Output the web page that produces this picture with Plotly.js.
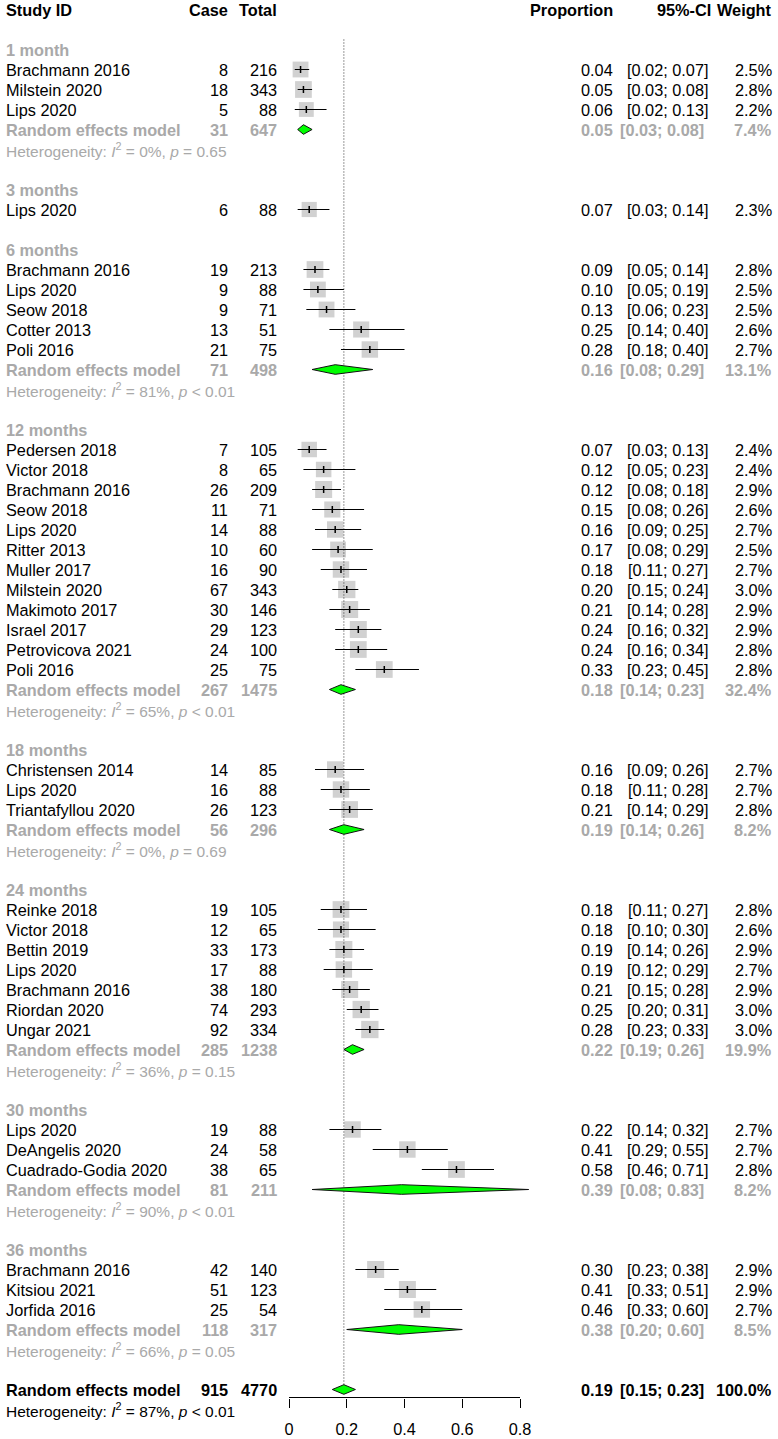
<!DOCTYPE html>
<html>
<head>
<meta charset="utf-8">
<script src="https://cdn.plot.ly/plotly-3.0.1.min.js"></script>
<style>
  body { margin: 0; background: #fff; }
  #plot { width: 778px; height: 1439px; }
</style>
</head>
<body>
<div id="plot"></div>
<script>
// Subgroups (follow-up time)
let groups = ["1 month", "3 months", "6 months", "12 months", "18 months", "24 months", "30 months", "36 months"];

// Study level data (index into groups)
let studyGroup = [0, 0, 0,
  1,
  2, 2, 2, 2, 2,
  3, 3, 3, 3, 3, 3, 3, 3, 3, 3, 3, 3,
  4, 4, 4,
  5, 5, 5, 5, 5, 5, 5,
  6, 6, 6,
  7, 7, 7];
let studyName = ["Brachmann 2016", "Milstein 2020", "Lips 2020",
  "Lips 2020",
  "Brachmann 2016", "Lips 2020", "Seow 2018", "Cotter 2013", "Poli 2016",
  "Pedersen 2018", "Victor 2018", "Brachmann 2016", "Seow 2018", "Lips 2020", "Ritter 2013",
  "Muller 2017", "Milstein 2020", "Makimoto 2017", "Israel 2017", "Petrovicova 2021", "Poli 2016",
  "Christensen 2014", "Lips 2020", "Triantafyllou 2020",
  "Reinke 2018", "Victor 2018", "Bettin 2019", "Lips 2020", "Brachmann 2016", "Riordan 2020", "Ungar 2021",
  "Lips 2020", "DeAngelis 2020", "Cuadrado-Godia 2020",
  "Brachmann 2016", "Kitsiou 2021", "Jorfida 2016"];
let studyCase = [8, 18, 5,
  6,
  19, 9, 9, 13, 21,
  7, 8, 26, 11, 14, 10, 16, 67, 30, 29, 24, 25,
  14, 16, 26,
  19, 12, 33, 17, 38, 74, 92,
  19, 24, 38,
  42, 51, 25];
let studyTotal = [216, 343, 88,
  88,
  213, 88, 71, 51, 75,
  105, 65, 209, 71, 88, 60, 90, 343, 146, 123, 100, 75,
  85, 88, 123,
  105, 65, 173, 88, 180, 293, 334,
  88, 58, 65,
  140, 123, 54];
let studyProp = [0.04, 0.05, 0.06,
  0.07,
  0.09, 0.10, 0.13, 0.25, 0.28,
  0.07, 0.12, 0.12, 0.15, 0.16, 0.17, 0.18, 0.20, 0.21, 0.24, 0.24, 0.33,
  0.16, 0.18, 0.21,
  0.18, 0.18, 0.19, 0.19, 0.21, 0.25, 0.28,
  0.22, 0.41, 0.58,
  0.30, 0.41, 0.46];
let studyLower = [0.02, 0.03, 0.02,
  0.03,
  0.05, 0.05, 0.06, 0.14, 0.18,
  0.03, 0.05, 0.08, 0.08, 0.09, 0.08, 0.11, 0.15, 0.14, 0.16, 0.16, 0.23,
  0.09, 0.11, 0.14,
  0.11, 0.10, 0.14, 0.12, 0.15, 0.20, 0.23,
  0.14, 0.29, 0.46,
  0.23, 0.33, 0.33];
let studyUpper = [0.07, 0.08, 0.13,
  0.14,
  0.14, 0.19, 0.23, 0.40, 0.40,
  0.13, 0.23, 0.18, 0.26, 0.25, 0.29, 0.27, 0.24, 0.28, 0.32, 0.34, 0.45,
  0.26, 0.28, 0.29,
  0.27, 0.30, 0.26, 0.29, 0.28, 0.31, 0.33,
  0.32, 0.55, 0.71,
  0.38, 0.51, 0.60];
let studyWeight = [2.5, 2.8, 2.2,
  2.3,
  2.8, 2.5, 2.5, 2.6, 2.7,
  2.4, 2.4, 2.9, 2.6, 2.7, 2.5, 2.7, 3.0, 2.9, 2.9, 2.8, 2.8,
  2.7, 2.7, 2.8,
  2.8, 2.6, 2.9, 2.7, 2.9, 3.0, 3.0,
  2.7, 2.7, 2.8,
  2.9, 2.9, 2.7];

// Random effects model per subgroup (null = single study, no pooling)
let reCase = [31, null, 71, 267, 56, 285, 81, 118];
let reTotal = [647, null, 498, 1475, 296, 1238, 211, 317];
let reProp = [0.05, null, 0.16, 0.18, 0.19, 0.22, 0.39, 0.38];
let reLower = [0.03, null, 0.08, 0.14, 0.14, 0.19, 0.08, 0.20];
let reUpper = [0.08, null, 0.29, 0.23, 0.26, 0.26, 0.83, 0.60];
let reWeight = [7.4, null, 13.1, 32.4, 8.2, 19.9, 8.2, 8.5];
let hetI2 = [0, null, 81, 65, 0, 36, 90, 66];
let hetP = ["= 0.65", null, "< 0.01", "< 0.01", "= 0.69", "= 0.15", "< 0.01", "= 0.05"];

// Overall random effects model
let overallCase = 915;
let overallTotal = 4770;
let overallProp = 0.19;
let overallLower = 0.15;
let overallUpper = 0.23;
let overallWeight = 100.0;
let overallI2 = 87;
let overallP = "< 0.01";

// x axis ticks
let tickVals = [0, 0.2, 0.4, 0.6, 0.8];

// Page geometry (pixels)
let W = 778, H = 1439;
let x0px = 289, pxPerUnit = 288.75;   // where 0 sits and how wide one unit is
let rowTop = 9.5, rowH = 20;          // centre of row 0 and row spacing
let axisPx = 1397.5;

let gray = "#A9A9A9";
let font = "Liberation Sans, Arial, sans-serif";
let fs = 16.3;      // main text size
let fsHet = 15.5;   // heterogeneity line

// Text columns (right edges unless noted)
let colName = 4, colCase = 230, colTotal = 279, colProp = 615, colCI = 710, colCIBold = 706, colWeight = 774;

let annotations = [];

function addText(text, px, row, anchor, opts) {
  opts = opts || {};
  annotations.push({
    text: text,
    x: px / W,
    xref: "paper",
    y: row,
    yref: "y",
    xanchor: anchor,
    yanchor: "middle",
    showarrow: false,
    font: {family: font, size: opts.size || fs, color: opts.color || "#000", weight: opts.bold ? "bold" : "normal"}
  });
}

function ciText(lo, hi) {
  return "[" + lo.toFixed(2) + "; " + hi.toFixed(2) + "]";
}

function hetText(i2, p) {
  return "Heterogeneity: <i>I</i><sup>2</sup> = " + i2 + "%, <i>p</i> " + p;
}

// Header
addText("Study ID", colName, 0, "left", {bold: true});
addText("Case", colCase, 0, "right", {bold: true});
addText("Total", colTotal, 0, "right", {bold: true});
addText("Proportion", colProp, 0, "right", {bold: true});
addText("95%-CI", 713, 0, "right", {bold: true});
addText("Weight", colWeight, 0, "right", {bold: true});

// Work out which row each study / pooled estimate goes on
let studyRow = [];
let reRow = [];
let row = 2;
for (let g = 0; g < groups.length; g++) {
  addText(groups[g], colName, row, "left", {bold: true, color: gray});
  row++;
  for (let i = 0; i < studyName.length; i++) {
    if (studyGroup[i] === g) {
      studyRow[i] = row;
      addText(studyName[i], colName, row, "left");
      addText(String(studyCase[i]), colCase, row, "right");
      addText(String(studyTotal[i]), colTotal, row, "right");
      addText(studyProp[i].toFixed(2), colProp, row, "right");
      addText(ciText(studyLower[i], studyUpper[i]), colCI, row, "right");
      addText(studyWeight[i].toFixed(1) + "%", colWeight, row, "right");
      row++;
    }
  }
  if (reProp[g] !== null) {
    reRow[g] = row;
    let st = {bold: true, color: gray};
    addText("Random effects model", colName, row, "left", st);
    addText(String(reCase[g]), colCase, row, "right", st);
    addText(String(reTotal[g]), colTotal, row, "right", st);
    addText(reProp[g].toFixed(2), colProp, row, "right", st);
    addText(ciText(reLower[g], reUpper[g]), colCIBold, row, "right", st);
    addText(reWeight[g].toFixed(1) + "%", colWeight, row, "right", st);
    row++;
    addText(hetText(hetI2[g], hetP[g]), colName, row, "left", {color: gray, size: fsHet});
    row++;
  } else {
    reRow[g] = null;
  }
  row++;
}

let overallRow = row;
addText("Random effects model", colName, overallRow, "left", {bold: true});
addText(String(overallCase), colCase, overallRow, "right", {bold: true});
addText(String(overallTotal), colTotal, overallRow, "right", {bold: true});
addText(overallProp.toFixed(2), colProp, overallRow, "right", {bold: true});
addText(ciText(overallLower, overallUpper), colCIBold, overallRow, "right", {bold: true});
addText(overallWeight.toFixed(1) + "%", colWeight, overallRow, "right", {bold: true});
addText(hetText(overallI2, overallP), colName, overallRow + 1, "left", {size: fsHet});

// CI lines and square sizes
let ciX = [], ciY = [];
let sqSize = [];
for (let i = 0; i < studyName.length; i++) {
  ciX.push(studyLower[i], studyUpper[i], null);
  ciY.push(studyRow[i], studyRow[i], null);
  sqSize.push(10 * Math.sqrt(studyWeight[i]));
}

// Diamonds for pooled estimates
let dh = 0.24;
let dX = [], dY = [];
for (let g = 0; g < groups.length; g++) {
  if (reRow[g] === null) continue;
  let r = reRow[g];
  dX.push(reLower[g], reProp[g], reUpper[g], reProp[g], reLower[g], null);
  dY.push(r, r - dh, r, r + dh, r, null);
}
dX.push(overallLower, overallProp, overallUpper, overallProp, overallLower, null);
dY.push(overallRow, overallRow - dh, overallRow, overallRow + dh, overallRow, null);

let squares = {
  x: studyProp,
  y: studyRow,
  mode: "markers",
  type: "scatter",
  marker: {symbol: "square", size: sqSize, color: "#BEBEBE", line: {width: 0}},
  hoverinfo: "skip"
};

let refLine = {
  x: [overallProp, overallProp],
  y: [1.5, overallRow],
  mode: "lines",
  type: "scatter",
  line: {color: "#333", width: 1, dash: "1px,2px"},
  hoverinfo: "skip"
};

let ciLines = {
  x: ciX,
  y: ciY,
  mode: "lines",
  type: "scatter",
  line: {color: "#000", width: 1},
  hoverinfo: "skip"
};

let estTicks = {
  x: studyProp,
  y: studyRow,
  mode: "markers",
  type: "scatter",
  marker: {symbol: "line-ns-open", size: 5, color: "#000", line: {color: "#000", width: 1.5}},
  hoverinfo: "skip"
};

let diamonds = {
  x: dX,
  y: dY,
  mode: "lines",
  type: "scatter",
  fill: "toself",
  fillcolor: "#00FF00",
  line: {color: "#111", width: 1},
  hoverinfo: "skip"
};

let data = [squares, refLine, ciLines, estTicks, diamonds];

let axisPos = 1 - axisPx / H;

let layout = {
  width: W,
  height: H,
  margin: {l: 0, r: 0, t: 0, b: 0},
  paper_bgcolor: "#fff",
  plot_bgcolor: "#fff",
  showlegend: false,
  xaxis: {
    domain: [0, 1],
    range: [-x0px / pxPerUnit, (W - x0px) / pxPerUnit],
    anchor: "free",
    position: axisPos,
    tickvals: tickVals,
    ticktext: tickVals.map(v => String(v)),
    ticks: "outside",
    ticklen: 9,
    tickwidth: 1,
    tickcolor: "#000",
    ticklabelstandoff: 8,
    tickfont: {family: font, size: fs, color: "#000"},
    showgrid: false,
    zeroline: false,
    showline: false
  },
  yaxis: {
    range: [(H - rowTop) / rowH, -rowTop / rowH],
    visible: false,
    showgrid: false,
    zeroline: false
  },
  // axis line only spans the tick range
  shapes: [{
    type: "line",
    xref: "x",
    yref: "paper",
    x0: tickVals[0],
    x1: tickVals[tickVals.length - 1],
    y0: axisPos,
    y1: axisPos,
    line: {color: "#000", width: 1}
  }],
  annotations: annotations
};

Plotly.newPlot("plot", data, layout, {staticPlot: true});
</script>
</body>
</html>
